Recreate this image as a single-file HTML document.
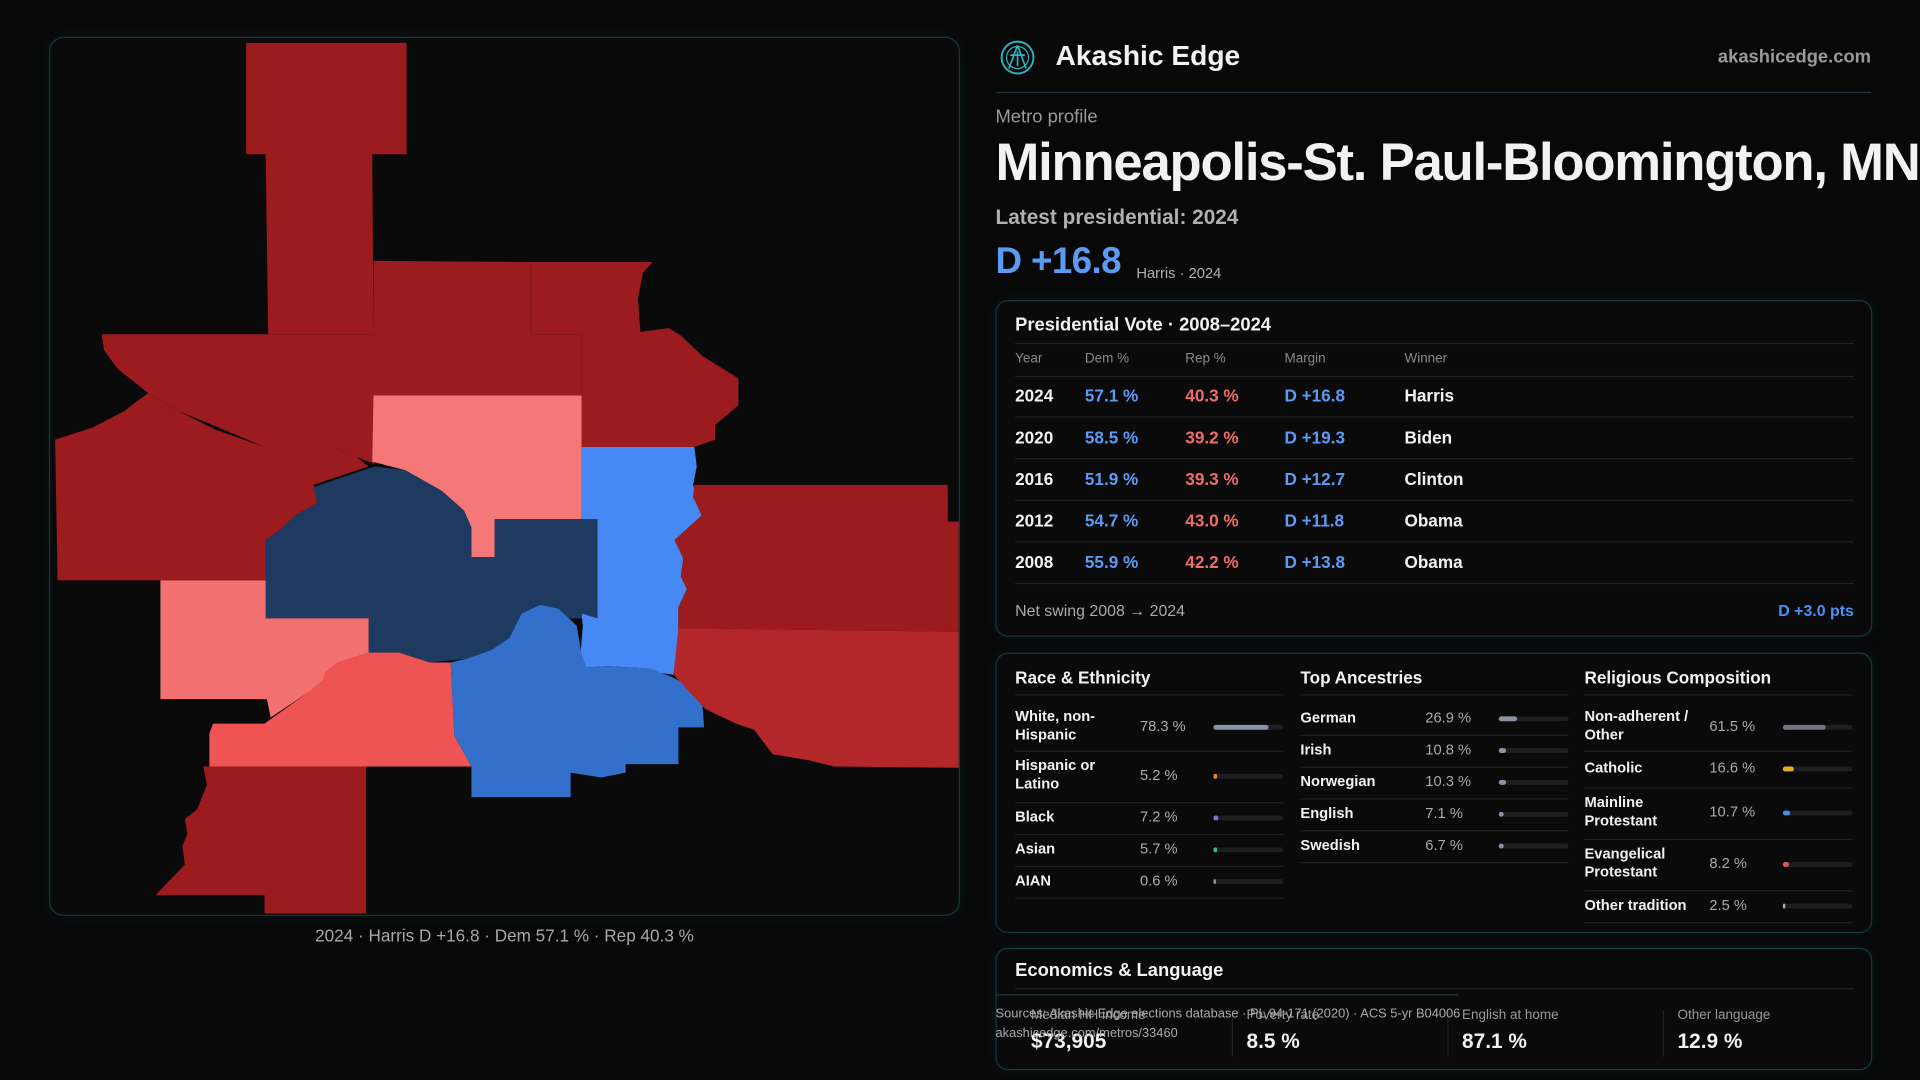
<!DOCTYPE html>
<html><head><meta charset="utf-8">
<style>
html,body{margin:0;padding:0;width:1920px;height:1080px;overflow:hidden;background:#080808;font-family:"Liberation Sans",sans-serif;color:#f2f2f2}
#stage{position:absolute;left:0;top:0;width:1568px;height:882px;transform:scale(1.2244898);transform-origin:0 0;overflow:hidden}
.abs{position:absolute;white-space:nowrap}
.card{position:absolute;border:1px solid #16393d;border-radius:10px;background:#0a0a0b;box-shadow:0 0 14px rgba(20,80,90,0.18)}
.muted{color:#9a9a9a}
.hline{position:absolute;height:1px;background:#222}
.bar{position:absolute;height:4px;border-radius:2px;background:#1e1e21}
.fill{position:absolute;left:0;top:0;height:4px;border-radius:2px}
</style></head><body>
<div id="stage">
<div class="card" style="left:40px;top:30px;width:742px;height:716px;border-radius:12px">
<svg width="742" height="716" viewBox="40 30 742 716" style="position:absolute;left:0;top:0">
<polygon fill="#9b1b1e" points="200,34 331,34 331,125 303,125 304,272 218,272 216,125 200,125"/>
<polygon fill="#9b1b1e" points="82,272 304,272 305,378 290,372 270,364 215,364 170,345 145,335 120,320 95,300 84,285"/>
<polygon fill="#9b1b1e" points="44,358 75,348 100,335 120,320 145,335 175,350 215,364 270,364 290,372 300,380 255,395 258,410 240,420 230,430 216,440 216,473 46,473"/>
<polygon fill="#9b1b1e" points="304,212 432,213 432,272 474,272 474,322 304,322"/>
<polygon fill="#9b1b1e" points="432,213 532,213 524,222 520,243 522,270 545,267 555,273 573,290 602,308 602,330 583,346 583,358 566,364 474,364 474,272 432,272"/>
<polygon fill="#f47878" points="304,322 474,322 474,423 403,423 403,454 384,454 384,430 378,416 360,400 330,383 303,376"/>
<polygon fill="#1f3a60" points="255,397 275,390 305,380 330,383 360,400 378,416 384,430 384,454 403,454 403,423 487,423 487,504 463,504 455,496 440,493 425,500 415,520 400,530 380,537 350,540 325,532 300,532 300,504 216,504 216,440 230,430 240,420 258,410"/>
<polygon fill="#4689f5" points="474,364 566,364 568,380 565,395 572,420 550,440 557,455 555,470 560,480 553,495 553,520 549,550 535,548 530,545 495,543 478,544 473,534 475,510 474,500 487,504 487,423 474,423"/>
<polygon fill="#3370cc" points="367,540 380,537 400,530 415,520 425,500 440,493 455,496 470,510 474,534 478,544 495,543 530,545 548,552 572,565 574,593 553,593 553,623 510,623 510,630 490,634 465,630 465,650 384,650 384,625 370,600"/>
<polygon fill="#ef5454" points="170,598 173,590 215,590 250,565 265,548 275,540 300,532 325,532 350,540 367,540 370,600 384,625 170,625"/>
<polygon fill="#f47171" points="130,473 216,473 216,504 300,504 300,532 275,540 265,548 262,555 250,565 220,585 217,570 130,570"/>
<polygon fill="#9b1b1e" points="165,625 298,625 298,745 215,745 215,730 126,730 150,705 148,690 152,680 150,668 160,660 168,640"/>
<polygon fill="#9b1b1e" points="566,395 773,395 773,425 782,425 782,515 553,512 553,495 560,480 555,470 557,455 550,440 572,420 565,405"/>
<polygon fill="#b3272a" points="553,512 782,515 782,626 680,625 660,620 630,615 615,595 600,590 575,578 549,550"/>
</svg>
</div>
<div class="abs muted" style="left:412px;top:756px;transform:translateX(-50%);font-size:14px;color:#a8a8a8">2024 · Harris D +16.8 · Dem 57.1 % · Rep 40.3 %</div>

<svg class="abs" style="left:816px;top:32px" width="30" height="30" viewBox="0 0 30 30"><circle cx="15" cy="15" r="13" fill="none" stroke="#2ab3c0" stroke-width="1.6"/><circle cx="15" cy="15" r="9" fill="none" stroke="#2ab3c0" stroke-width="1"/><path d="M15 5 L8 24 M15 5 L22 24 M9 13 L21 13 M15 10 L15 22" stroke="#2ab3c0" stroke-width="1.4" fill="none"/></svg>
<div class="abs" style="left:862px;top:32px;font-size:23px;font-weight:bold">Akashic Edge</div>
<div class="abs" style="right:40px;top:38px;font-size:15px;color:#9a9a9a;font-weight:bold">akashicedge.com</div>
<div class="hline" style="left:813px;top:75px;width:715px;background:#1d3a3d"></div>
<div class="abs muted" style="left:813px;top:87px;font-size:15px">Metro profile</div>
<div class="abs" style="left:813px;top:109px;font-size:43px;font-weight:bold;letter-spacing:-1px">Minneapolis-St. Paul-Bloomington, MN-WI</div>
<div class="abs" style="left:813px;top:168px;font-size:17px;color:#b0b0b0;font-weight:bold">Latest presidential: 2024</div>
<div class="abs" style="left:813px;top:197px;font-size:30px;font-weight:bold;color:#5b9bf5;letter-spacing:-0.5px">D +16.8</div>
<div class="abs" style="left:928px;top:216px;font-size:12px;color:#b0b0b0">Harris · 2024</div>

<div class="card" style="left:813px;top:245px;width:714px;height:273px">
<div class="abs" style="left:15px;top:11px;font-size:15px;font-weight:bold">Presidential Vote · 2008–2024</div>
<div class="hline" style="left:15px;top:34px;width:685px"></div>
<div id="vote" style="position:absolute;left:0;top:0;width:714px;height:273px"></div>
<div class="abs muted" style="left:15px;top:245px;font-size:13px;color:#aaa">Net swing 2008 → 2024</div>
<div class="abs" style="right:14px;top:245px;font-size:13px;color:#4a90f5;font-weight:bold">D +3.0 pts</div>
</div>

<div class="card" style="left:813px;top:533px;width:714px;height:227px">
<div id="demo" style="position:absolute;left:0;top:0;width:714px;height:227px"></div>
</div>

<div class="card" style="left:813px;top:774px;width:714px;height:98px">
<div class="abs" style="left:15px;top:9px;font-size:15px;font-weight:bold">Economics &amp; Language</div>
<div class="hline" style="left:15px;top:32px;width:685px"></div>
<div id="econ"></div>
</div>
<div class="hline" style="left:813px;top:812px;width:378px;background:#1d3a3d"></div>
<div class="abs" style="left:813px;top:822px;font-size:10.5px;color:#aaa">Sources: Akashic Edge elections database · PL 94-171 (2020) · ACS 5-yr B04006</div>
<div class="abs" style="left:813px;top:838px;font-size:10.5px;color:#aaa">akashicedge.com/metros/33460</div>
</div>
<script>
const years=["2024","2020","2016","2012","2008"];
const demPct=[57.1,58.5,51.9,54.7,55.9];
const repPct=[40.3,39.2,39.3,43.0,42.2];
const margins=[16.8,19.3,12.7,11.8,13.8];
const winners=["Harris","Biden","Clinton","Obama","Obama"];
const raceLabels=["White, non-Hispanic","Hispanic or Latino","Black","Asian","AIAN"];
const raceValues=[78.3,5.2,7.2,5.7,0.6];
const ancLabels=["German","Irish","Norwegian","English","Swedish"];
const ancValues=[26.9,10.8,10.3,7.1,6.7];
const relLabels=["Non-adherent / Other","Catholic","Mainline Protestant","Evangelical Protestant","Other tradition"];
const relValues=[61.5,16.6,10.7,8.2,2.5];
const econLabels=["Median HH income","Poverty rate","English at home","Other language"];
const econValues=["$73,905","8.5 %","87.1 %","12.9 %"];

function mk(parent,css,text){const d=document.createElement('div');d.className='abs';d.style.cssText=css;if(text!==undefined)d.textContent=text;parent.appendChild(d);return d;}
const vote=document.getElementById('vote');
const hdrs=["Year","Dem %","Rep %","Margin","Winner"];const hx=[15,72,154,235,333];
hdrs.forEach((h,i)=>{const e=mk(vote,`left:${hx[i]}px;top:41px;font-size:11px;color:#8a8a8a`,h);

});
const l0=mk(vote,'left:15px;top:61px;width:685px;height:1px;background:#222');


years.forEach((y,i)=>{const top=69+i*34;
const m=margins[i];
const cells=[[y,'#f2f2f2'],[demPct[i].toFixed(1)+' %','#5b9bf5'],[repPct[i].toFixed(1)+' %','#f26b6b'],[(m>=0?'D +':'R +')+Math.abs(m).toFixed(1),'#5b9bf5'],[winners[i],'#f2f2f2']];
cells.forEach((c,j)=>{const e=mk(vote,`left:${hx[j]}px;top:${top}px;font-size:14px;font-weight:bold;color:${c[1]}`,c[0]);

});
const ln=mk(vote,`left:15px;top:${top+25}px;width:685px;height:1px;background:#222`);

});

const demo=document.getElementById('demo');
function section(x,title,labels,values,colors,heights){
const t=mk(demo,`left:${x}px;top:11px;font-size:14px;font-weight:bold`,title);


const l=mk(demo,`left:${x}px;top:33px;width:219px;height:1px;background:#222`);


let y=40;
labels.forEach((lab,i)=>{const h=heights[i];const cy=y+h/2;
const a=mk(demo,`left:${x}px;top:${cy-(h>30?16:8)}px;font-size:12px;font-weight:bold;white-space:normal;width:88px;line-height:15px`,lab);


const v=mk(demo,`left:${x+102}px;top:${cy-8}px;font-size:12px;color:#aaa`,values[i].toFixed(1)+' %');


const b=document.createElement('div');b.className='bar';b.style.cssText=`left:${x+162}px;top:${cy-2}px;width:57px`;demo.appendChild(b);


const f=document.createElement('div');f.className='fill';f.style.cssText=`width:${Math.max(1.5,57*values[i]/100)}px;background:${colors[i]}`;b.appendChild(f);


y+=h;const d=mk(demo,`left:${x}px;top:${y}px;width:219px;height:1px;background:#222`);

});}
section(15,"Race & Ethnicity",raceLabels,raceValues,["#8a94a6","#e08a1e","#8b6fe0","#2fbf8a","#8a94a6"],[39,42,26,26,26]);
section(248,"Top Ancestries",ancLabels,ancValues,["#8a94a6","#8a94a6","#8a94a6","#8a94a6","#8a94a6"],[26,26,26,26,26]);
section(480,"Religious Composition",relLabels,relValues,["#70757f","#e0b020","#4a86e8","#e05555","#aaaaaa"],[39,30,42,42,26]);

const econ=document.getElementById('econ');const ex=[28,204,380,556];
econLabels.forEach((lab,i)=>{
if(i>0){const d=mk(econ,`left:${ex[i]-12}px;top:50px;width:1px;height:38px;background:#222`);

}
const a=mk(econ,`left:${ex[i]}px;top:48px;font-size:11px;color:#9a9a9a`,lab);


const v=mk(econ,`left:${ex[i]}px;top:66px;font-size:17px;font-weight:bold`,econValues[i]);

});
</script>
</body></html>
